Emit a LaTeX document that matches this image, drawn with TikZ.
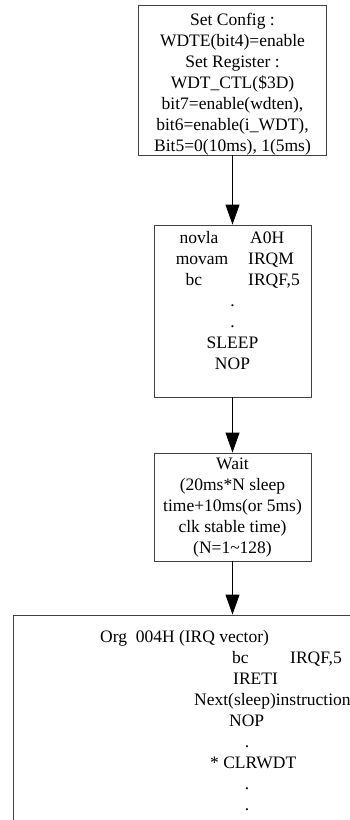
\documentclass[tikz,border=0pt]{standalone}
\usepackage{fontspec}
\setmainfont{Liberation Serif}
\usetikzlibrary{arrows.meta}
\begin{document}
\begin{tikzpicture}[x=1pt,y=-1pt,
  box/.style={draw=black!75,line width=0.9pt,rectangle,inner sep=0pt},
  txt/.style={font=\fontsize{17.5}{21}\selectfont,inner sep=0pt,align=center},
  lbl/.style={font=\fontsize{17.5}{21}\selectfont,inner sep=0pt},
  arr/.style={line width=0.9pt,-{Triangle[length=20pt,width=14pt]}}]
\useasboundingbox (0,0) rectangle (350,820);
\clip (0,0) rectangle (350,820);
% box 1
\node[box,minimum width=188pt,minimum height=150pt] (b1) at (232.5,80) {};
\node[txt] (t1) at (232.5,84) {Set Config :\\WDTE(bit4)=enable\\Set Register :\\WDT\_CTL(\$3D)\\bit7=enable(wdten),\\bit6=enable(i\_WDT),\\Bit5=0(10ms), 1(5ms)};
% box 2
\node[box,minimum width=157pt,minimum height=172pt] (b2) at (232.5,311) {};
\node[lbl,anchor=base] (n1) at (199,243) {novla};
\node[lbl,anchor=base west] (n2) at (250,243) {A0H};
\node[lbl,anchor=base] (n3) at (202,264) {movam};
\node[lbl,anchor=base west] (n4) at (248,264) {IRQM};
\node[lbl,anchor=base] (n5) at (194,285) {bc};
\node[lbl,anchor=base west] (n6) at (248,285) {IRQF,5};
\node[lbl,anchor=base] (n7) at (232.5,306) {.};
\node[lbl,anchor=base] (n8) at (232.5,327) {.};
\node[lbl,anchor=base] (n9) at (232.5,348) {SLEEP};
\node[lbl,anchor=base] (n10) at (232.5,369) {NOP};
% box 3
\node[box,minimum width=157pt,minimum height=108pt] (b3) at (232.5,507) {};
\node[txt] (t3) at (232.5,508) {Wait\\(20ms*N sleep\\time+10ms(or 5ms)\\clk stable time)\\(N=1\textasciitilde128)};
% box 4
\node[box,minimum width=439pt,minimum height=300pt] (b4) at (232.5,765) {};
\node[lbl,anchor=base west] (m1) at (100,642) {Org\ \ 004H (IRQ vector)};
\node[lbl,anchor=base west] (m2) at (232,663) {bc};
\node[lbl,anchor=base west] (m3) at (290,663) {IRQF,5};
\node[lbl,anchor=base west] (m4) at (233,684) {IRETI};
\node[lbl,anchor=base west] (m5) at (194,705) {Next(sleep)instruction};
\node[lbl,anchor=base west] (m6) at (229,726) {NOP};
\node[lbl,anchor=base] (m7) at (247,747) {.};
\node[lbl,anchor=base west] (m8) at (210,768) {* CLRWDT};
\node[lbl,anchor=base] (m9) at (247,789) {.};
\node[lbl,anchor=base] (m10) at (247,810) {.};
% arrows
\draw[arr] (b1.south) -- (b2.north);
\draw[arr] (b2.south) -- (b3.north);
\draw[arr] (b3.south) -- (b4.north);
\end{tikzpicture}
\end{document}
